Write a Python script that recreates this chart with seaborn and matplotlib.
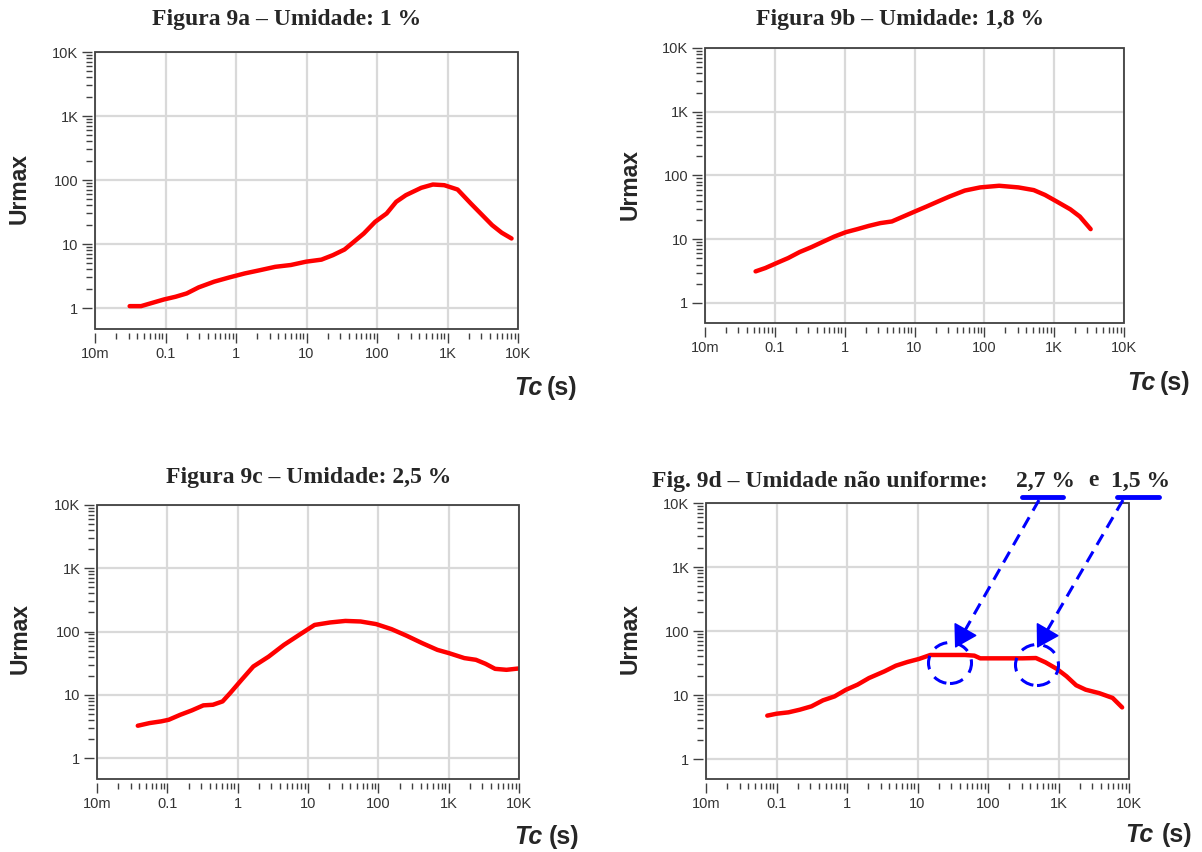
import numpy as np
import pandas as pd
import matplotlib
matplotlib.use("Agg")
import matplotlib.pyplot as plt
import seaborn as sns
from matplotlib.lines import Line2D
from matplotlib.patches import Ellipse, FancyArrowPatch, Rectangle
from matplotlib.ticker import FixedLocator, NullFormatter

# ---------------- data ----------------
titles = ["Figura 9a – Umidade: 1 %", "Figura 9b – Umidade: 1,8 %",
          "Figura 9c – Umidade: 2,5 %", "Fig. 9d – Umidade não uniforme:"]
xtick_vals = [0.01, 0.1, 1, 10, 100, 1000, 10000]
xtick_labels = ["10m", "0.1", "1", "10", "100", "1K", "10K"]
ytick_vals = [1, 10, 100, 1000, 10000]
ytick_labels = ["1", "10", "100", "1K", "10K"]
ylabel = "Urmax"

tc_a = [0.031, 0.045, 0.066, 0.095, 0.139, 0.20, 0.295, 0.49, 0.80, 1.33, 2.19, 3.6,
        6.0, 9.9, 16.3, 23.7, 34.6, 44, 65, 94, 137, 187, 257, 424, 620, 900, 1390,
        2140, 3140, 4300, 5880, 8100]
u_a = [1.07, 1.07, 1.21, 1.36, 1.50, 1.69, 2.10, 2.58, 3.0, 3.47, 3.9, 4.4,
       4.7, 5.3, 5.7, 6.7, 8.2, 10.2, 14.6, 22.2, 30, 45.6, 58, 75.5, 85, 83, 71,
       43, 28, 19.7, 15, 12.2]

tc_b = [0.053, 0.073, 0.106, 0.155, 0.227, 0.333, 0.487, 0.71, 1.04, 1.52, 2.22, 3.24,
        4.74, 6.9, 10.1, 14.8, 21.6, 31.6, 52.5, 87, 163, 308, 510, 740, 1090, 1700,
        2330, 3330]
u_b = [3.13, 3.53, 4.23, 5.06, 6.3, 7.5, 9.1, 11.0, 12.9, 14.4, 16.2, 17.9,
       19.0, 22.7, 27.2, 32.5, 39, 46.7, 58, 65, 69, 65, 59, 49.5, 39, 29.5,
       22.7, 14.4]

tc_c = [0.038, 0.056, 0.082, 0.105, 0.153, 0.223, 0.325, 0.445, 0.61, 0.78, 1.14, 1.67,
        2.75, 4.55, 7.5, 12.4, 20.6, 34, 56, 93, 154, 254, 420, 690, 1010, 1670,
        2440, 3340, 4570, 6650, 9760]
u_c = [3.24, 3.57, 3.8, 4.03, 4.83, 5.66, 6.8, 6.95, 7.85, 10.6, 17.3, 28,
       40, 61.5, 88.5, 127, 139, 147, 144, 131, 109, 85.5, 65.5, 51.3, 45.5, 38,
       35.7, 30.9, 25.7, 24.8, 26]

tc_d = [0.074, 0.10, 0.148, 0.215, 0.313, 0.457, 0.665, 0.97, 1.41, 2.05, 3.39, 4.93,
        7.2, 10.5, 15.2, 25, 47, 64, 77.6, 165, 309, 479, 653, 951, 1300, 1780,
        2430, 3770, 5850, 7990]
u_d = [4.76, 5.1, 5.36, 5.9, 6.65, 8.26, 9.5, 12.1, 14.5, 18.4, 23.4, 28.7,
       32.8, 36.6, 42.2, 42.2, 42.2, 41.2, 37.4, 37.4, 37.4, 37.8, 32.4, 25.5, 19.6, 14.2,
       12.1, 10.7, 9.0, 6.4]

series = [(tc_a, u_a), (tc_b, u_b), (tc_c, u_c), (tc_d, u_d)]

# ---------------- layout (pixels) ----------------
W, H = 1202, 852
sns.set_theme(style="white")
plt.rcParams['font.family'] = ['Liberation Sans', 'DejaVu Sans']

fig = plt.figure(figsize=(W / 100, H / 100), dpi=100)
fig.patch.set_facecolor("white")

def fx(x):
    return x / W

def fy(y):
    return 1 - y / H

boxes = [(95, 518, 52, 329), (705, 1124, 48, 323), (97, 519, 505, 779), (706, 1129, 503, 779)]
ymins = [0.47, 0.485, 0.466, 0.487]
title_pos = [(287, 20), (900, 20), (309, 477), (652, 481)]
ylab_pos = [(19, 188), (630, 185), (20, 639), (630, 638)]
tc_pos = [(542, 547, 388), (1155, 1160, 383), (542, 549, 837), (1153, 1162, 835)]

minor_vals = [m * 10.0 ** e for e in range(-2, 4) for m in range(2, 10)]
yminor_vals = [m * 10.0 ** e for e in range(0, 4) for m in range(2, 10)]

sans = ["Liberation Sans", "DejaVu Sans"]
serif = ["Liberation Serif", "DejaVu Serif"]
frame_col = "#404040"

for i, ((l, r, t, b), (xs, ys)) in enumerate(zip(boxes, series)):
    ax = fig.add_axes([fx(l), fy(b), (r - l) / W, (b - t) / H])
    df = pd.DataFrame({"Tc": xs, "U": ys})
    sns.lineplot(data=df, x="Tc", y="U", ax=ax, color="#ff0000", lw=3.2,
                 estimator=None, sort=False)
    ax.set_xscale("log")
    ax.set_yscale("log")
    ax.set_xlim(0.01, 10000)
    ax.set_ylim(ymins[i], 10000)
    ax.xaxis.set_major_locator(FixedLocator(xtick_vals))
    ax.set_xticklabels(xtick_labels)
    ax.yaxis.set_major_locator(FixedLocator(ytick_vals))
    ax.set_yticklabels(ytick_labels)
    ax.xaxis.set_minor_locator(FixedLocator(minor_vals))
    ax.yaxis.set_minor_locator(FixedLocator(yminor_vals))
    ax.xaxis.set_minor_formatter(NullFormatter())
    ax.yaxis.set_minor_formatter(NullFormatter())
    ax.tick_params(which="major", direction="out", length=7, width=1.0, color=frame_col,
                   labelsize=10.5, labelcolor="#333333", pad=3,
                   bottom=True, left=True, top=False, right=False)
    ax.tick_params(which="minor", direction="out", length=4, width=1.0, color=frame_col,
                   bottom=True, left=True, top=False, right=False)
    ax.grid(which="major", color="#d9d9d9", lw=1.6)
    ax.grid(which="minor", visible=False)
    ax.set_axisbelow(True)
    # ticks sit slightly apart from the frame, as in the original
    ax.spines["bottom"].set_position(("outward", 3))
    ax.spines["left"].set_position(("outward", 2))
    for s in ax.spines.values():
        s.set_visible(False)
    ax.add_patch(Rectangle((0, 0), 1, 1, transform=ax.transAxes, fill=False,
                           ec=frame_col, lw=1.3, clip_on=False, zorder=3))
    ax.set_xlabel("")
    ax.set_ylabel("")

    # title
    tx, ty = title_pos[i]
    fig.text(fx(tx), fy(ty), titles[i], ha="center" if i < 3 else "left", va="center",
             fontsize=17, fontweight="bold", family=serif)
    # y label
    lx, lyy = ylab_pos[i]
    fig.text(fx(lx), fy(lyy), ylabel, rotation=90, ha="center", va="center",
             fontsize=16.5, fontweight="bold", family=sans)
    # Tc (s)
    x1, x2, yy = tc_pos[i]
    fig.text(fx(x1), fy(yy), "Tc", ha="right", va="center", fontsize=18,
             fontweight="bold", fontstyle="italic", family=sans)
    fig.text(fx(x2), fy(yy), "(s)", ha="left", va="center", fontsize=18,
             fontweight="bold", family=sans)

# extra title parts of 9d
fig.text(fx(1016), fy(481), "2,7 %", ha="left", va="center", fontsize=17,
         fontweight="bold", family=serif)
fig.text(fx(1088), fy(481), "e", ha="left", va="center", fontsize=17,
         fontweight="bold", family=serif)
fig.text(fx(1111), fy(481), "1,5 %", ha="left", va="center", fontsize=17,
         fontweight="bold", family=serif)

# blue underlines
for (xa, xb) in [(1022, 1063), (1117, 1159)]:
    fig.add_artist(Line2D([fx(xa), fx(xb)], [fy(497), fy(497)], color="#0000ff", lw=3.5,
                          transform=fig.transFigure))

# dashed arrows (dashed shaft + solid head)
for (x0, y0, x1, y1) in [(1039, 500, 955, 648), (1123, 500, 1037, 648)]:
    fig.add_artist(Line2D([fx(x0), fx(x1 + 0.07 * (x0 - x1))],
                          [fy(y0), fy(y1 + 0.07 * (y0 - y1))],
                          color="#0000ff", lw=2.2, linestyle=(0, (4, 2.5)),
                          transform=fig.transFigure))
    xm, ym = x1 + 0.15 * (x0 - x1), y1 + 0.15 * (y0 - y1)
    fig.add_artist(FancyArrowPatch((fx(xm), fy(ym)), (fx(x1), fy(y1)),
                                   transform=fig.transFigure,
                                   arrowstyle="-|>,head_length=0.7,head_width=0.42",
                                   mutation_scale=20, color="#0000ff", lw=1.2,
                                   shrinkA=0, shrinkB=0))

# dashed circles
for (cx, cy) in [(950, 663), (1037, 665)]:
    fig.add_artist(Ellipse((fx(cx), fy(cy)), 43 / W, 41 / H, transform=fig.transFigure,
                           fill=False, ec="#0000ff", lw=2.2, linestyle=(0, (4.5, 3))))

fig.savefig("out.png", dpi=100)
